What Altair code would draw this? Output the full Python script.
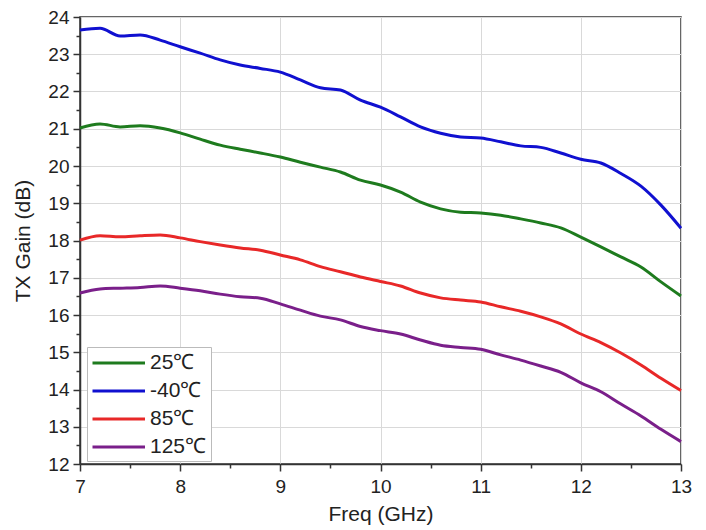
import altair as alt
import pandas as pd

freq = [7.0, 7.2, 7.4, 7.6, 7.8, 8.0, 8.2, 8.4, 8.6, 8.8, 9.0, 9.2, 9.4, 9.6, 9.8,
        10.0, 10.2, 10.4, 10.6, 10.8, 11.0, 11.2, 11.4, 11.6, 11.8, 12.0, 12.2, 12.4,
        12.6, 12.8, 13.0]

gain_25 = [21.02, 21.13, 21.05, 21.08, 21.02, 20.89, 20.72, 20.56, 20.45, 20.35, 20.24,
           20.10, 19.97, 19.84, 19.62, 19.49, 19.30, 19.03, 18.85, 18.76, 18.74, 18.68,
           18.58, 18.47, 18.34, 18.09, 17.83, 17.56, 17.29, 16.89, 16.51]
gain_m40 = [23.65, 23.70, 23.49, 23.52, 23.38, 23.20, 23.03, 22.85, 22.71, 22.62, 22.52,
            22.31, 22.10, 22.04, 21.77, 21.58, 21.32, 21.05, 20.88, 20.78, 20.75, 20.65,
            20.54, 20.50, 20.35, 20.18, 20.08, 19.80, 19.46, 18.95, 18.33]
gain_85 = [18.01, 18.13, 18.10, 18.13, 18.15, 18.07, 17.97, 17.88, 17.80, 17.74, 17.61,
           17.48, 17.30, 17.16, 17.02, 16.90, 16.78, 16.59, 16.46, 16.40, 16.35, 16.22,
           16.10, 15.95, 15.76, 15.49, 15.26, 14.98, 14.66, 14.30, 13.97]
gain_125 = [16.59, 16.70, 16.72, 16.74, 16.78, 16.72, 16.65, 16.56, 16.49, 16.45, 16.30,
            16.13, 15.97, 15.87, 15.69, 15.58, 15.49, 15.33, 15.19, 15.13, 15.08, 14.93,
            14.79, 14.63, 14.46, 14.18, 13.94, 13.61, 13.29, 12.93, 12.60]

series_names = ["25℃", "-40℃", "85℃", "125℃"]
series_colors = ["#1E7B1E", "#1010D0", "#E82828", "#7A1F8A"]
series_values = [gain_25, gain_m40, gain_85, gain_125]

rows = []
for name, vals in zip(series_names, series_values):
    for f, g in zip(freq, vals):
        rows.append({"Freq": f, "Gain": g, "Temp": name})
df = pd.DataFrame(rows)

x_ticks = [7 + 0.5 * i for i in range(13)]
y_ticks = [12 + 0.5 * i for i in range(25)]

major_test = "datum.value % 1 === 0"

x_axis = alt.Axis(
    values=x_ticks,
    labelExpr="datum.value % 1 === 0 ? format(datum.value, 'd') : ''",
    labelOverlap=False,
    labelFlush=False,
    tickSize={"condition": {"test": major_test, "value": 7}, "value": 4},
    gridOpacity={"condition": {"test": major_test, "value": 1}, "value": 0},
    title="Freq (GHz)",
    titlePadding=7,
    labelPadding=6,
)
y_axis = alt.Axis(
    values=y_ticks,
    labelExpr="datum.value % 1 === 0 ? format(datum.value, 'd') : ''",
    labelOverlap=False,
    labelFlush=False,
    tickSize={"condition": {"test": major_test, "value": 7}, "value": 4},
    gridOpacity={"condition": {"test": major_test, "value": 1}, "value": 0},
    title="TX Gain (dB)",
    titlePadding=14,
    labelPadding=4,
)

chart = alt.Chart(df).mark_line(strokeWidth=3, interpolate="monotone").encode(
    x=alt.X("Freq:Q", scale=alt.Scale(domain=[7, 13], nice=False), axis=x_axis),
    y=alt.Y("Gain:Q", scale=alt.Scale(domain=[12, 24], nice=False, zero=False), axis=y_axis),
    color=alt.Color(
        "Temp:N",
        scale=alt.Scale(domain=series_names, range=series_colors),
        sort=series_names,
        legend=alt.Legend(
            title=None,
            orient="none",
            legendX=7,
            legendY=330,
            symbolType="M-1,0H4",
            symbolSize=441,
            symbolStrokeWidth=3,
            labelFontSize=21,
            labelFont="Liberation Sans",
            labelColor="#222222",
            rowPadding=6,
            strokeColor="#bbbbbb",
            fillColor="white",
            padding=4,
            labelOffset=35,
        ),
    ),
    order=alt.Order("Freq:Q"),
).properties(
    width=601,
    height=447,
    background="white",
    autosize=alt.AutoSizeParams(type="none"),
    padding={"left": 80, "top": 17, "right": 25, "bottom": 66},
).configure_view(
    stroke="#333333",
    strokeWidth=1.5,
).configure_axis(
    domainColor="#333333",
    domainWidth=1.5,
    tickColor="#333333",
    tickWidth=1.5,
    gridColor="#d9d9d9",
    gridWidth=1,
    labelFont="Liberation Sans",
    labelFontSize=19,
    labelColor="#222222",
    titleFont="Liberation Sans",
    titleFontSize=21,
    titleFontWeight="normal",
    titleColor="#222222",
)

chart.save("out.html", embed_options={"renderer": "svg", "actions": False})
